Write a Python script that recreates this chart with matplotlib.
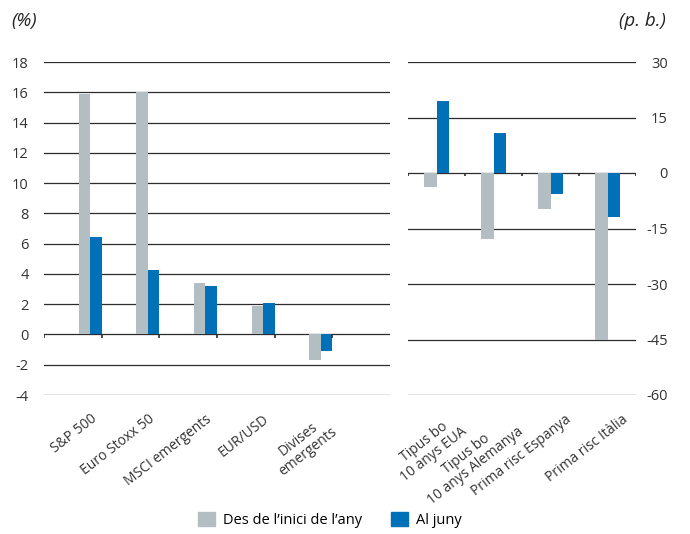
import matplotlib
matplotlib.use("Agg")
import matplotlib.pyplot as plt
from matplotlib.patches import Patch

plt.rcParams['font.family'] = ['Open Sans', 'DejaVu Sans']
plt.rcParams['axes.unicode_minus'] = False

# left panel (%)
left_cats = ['S&P 500', 'Euro Stoxx 50', 'MSCI emergents', 'EUR/USD', 'Divises\nemergents']
left_ytd = [15.87, 16.0, 3.43, 1.89, -1.67]
left_june = [6.43, 4.29, 3.23, 2.05, -1.10]

# right panel (p. b.)
right_cats = ['Tipus bo\n10 anys EUA', 'Tipus bo\n10 anys Alemanya', 'Prima risc Espanya', 'Prima risc Itàlia']
right_ytd = [-3.8, -17.8, -9.8, -45.2]
right_june = [19.5, 10.9, -5.7, -11.9]

left_ticks = [-4, -2, 0, 2, 4, 6, 8, 10, 12, 14, 16, 18]
right_ticks = [-60, -45, -30, -15, 0, 15, 30]

grey = '#b3bec3'
blue = '#0071b8'
line_col = '#2b2b2b'
txt_col = '#333333'

W, H = 690, 534
fig = plt.figure(figsize=(6.9, 5.34), dpi=100)
ax1 = fig.add_axes([44 / W, 1 - 395 / H, (390 - 44) / W, (395 - 62) / H])
ax2 = fig.add_axes([408 / W, 1 - 395 / H, (636 - 408) / W, (395 - 62) / H])

# left: bars sit at the right side of each slot
x1 = range(len(left_cats))
ax1.bar([i + 0.7 for i in x1], left_ytd, width=0.2, color=grey, zorder=2)
ax1.bar([i + 0.9 for i in x1], left_june, width=0.2, color=blue, zorder=2)
ax1.set_xlim(0, 6)
ax1.set_ylim(-4, 18)
for t in left_ticks:
    ax1.axhline(t, color=line_col, lw=0.9, zorder=1)
ax1.vlines(range(len(left_cats) + 1), -0.22, 0, color=line_col, lw=1.2, zorder=3)
ax1.set_yticks(left_ticks)
ax1.tick_params(axis='y', length=0, pad=11, labelsize=10.5, labelcolor=txt_col)
ax1.set_xticks([i + 0.8 for i in x1])
ax1.set_xticklabels(left_cats, rotation=38, ha='right', rotation_mode='anchor',
                    multialignment='center', fontsize=10, color=txt_col, linespacing=1.05)
ax1.tick_params(axis='x', length=0, pad=12)

# right: bars centred in each slot
x2 = range(len(right_cats))
ax2.bar([i + 0.39 for i in x2], right_ytd, width=0.22, color=grey, zorder=2)
ax2.bar([i + 0.61 for i in x2], right_june, width=0.22, color=blue, zorder=2)
ax2.set_xlim(0, 4)
ax2.set_ylim(-60, 30)
for t in right_ticks:
    ax2.axhline(t, color=line_col, lw=0.9, zorder=1)
ax2.vlines(range(len(right_cats) + 1), -0.9, 0, color=line_col, lw=1.2, zorder=3)
ax2.yaxis.tick_right()
ax2.set_yticks(right_ticks)
ax2.tick_params(axis='y', length=0, pad=23, labelsize=10.5, labelcolor=txt_col)
for lab in ax2.get_yticklabels():
    lab.set_horizontalalignment('right')
ax2.set_xticks([i + 0.75 for i in x2])
ax2.set_xticklabels(right_cats, rotation=38, ha='right', rotation_mode='anchor',
                    multialignment='center', fontsize=10, color=txt_col, linespacing=1.05)
ax2.tick_params(axis='x', length=0, pad=12)

for ax in (ax1, ax2):
    for s in ax.spines.values():
        s.set_visible(False)

fig.text(11 / W, 1 - 21 / H, '(%)', style='italic', fontsize=13.5, va='center', ha='left', color='#222222')
fig.text(666 / W, 1 - 21 / H, '(p. b.)', style='italic', fontsize=13.5, va='center', ha='right', color='#222222')

handles = [Patch(color=grey, label="Des de l\u2019inici de l\u2019any"),
           Patch(color=blue, label='Al juny')]
fig.legend(handles=handles, loc='center', bbox_to_anchor=(330 / W, 1 - 520 / H), ncol=2,
           frameon=False, fontsize=10.5, handlelength=1.15, handleheight=1.1,
           handletextpad=0.55, columnspacing=2.0)

fig.savefig('out.png', dpi=100)
